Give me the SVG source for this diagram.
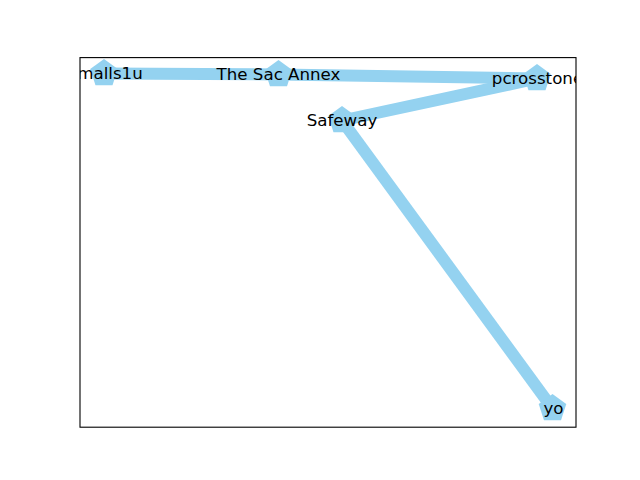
<svg xmlns="http://www.w3.org/2000/svg" width="640" height="480" viewBox="0 0 640 480">
  <style>
    .edge { stroke: #94d2f0; stroke-width: 12; stroke-linecap: butt; fill: none; }
    .node { fill: #94d2f0; stroke: none; }
    .label { font-family: "DejaVu Sans", sans-serif; font-size: 16.67px; fill: #000; text-anchor: middle; }
    .frame { fill: none; stroke: #000; stroke-width: 1.1; }
  </style>
  <defs>
    <clipPath id="axclip">
      <rect x="80" y="57.6" width="496" height="369.6"/>
    </clipPath>
  </defs>
  <rect x="0" y="0" width="640" height="480" fill="#fff"/>
  <g clip-path="url(#axclip)">
    <g id="connectors">
      <line class="edge" x1="104" y1="73.5" x2="278.5" y2="74.5"/>
      <line class="edge" x1="278.5" y1="74.5" x2="537" y2="78.5"/>
      <line class="edge" x1="537" y1="78.5" x2="342" y2="120.5"/>
      <line class="edge" x1="342" y1="120.5" x2="552.5" y2="408.5"/>
    </g>
    <g id="node-malls1u">
      <polygon class="node" transform="translate(104,73.5)" points="0,-14.5 13.79,-4.48 8.52,11.73 -8.52,11.73 -13.79,-4.48"/>
      <text class="label" x="110" y="79">malls1u</text>
    </g>
    <g id="node-sac-annex">
      <polygon class="node" transform="translate(278.5,74.5)" points="0,-14.5 13.79,-4.48 8.52,11.73 -8.52,11.73 -13.79,-4.48"/>
      <text class="label" x="278.5" y="80">The Sac Annex</text>
    </g>
    <g id="node-pcrosstone">
      <polygon class="node" transform="translate(537,78.5)" points="0,-14.5 13.79,-4.48 8.52,11.73 -8.52,11.73 -13.79,-4.48"/>
      <text class="label" x="537.5" y="84">pcrosstone</text>
    </g>
    <g id="node-safeway">
      <polygon class="node" transform="translate(342,120.5)" points="0,-14.5 13.79,-4.48 8.52,11.73 -8.52,11.73 -13.79,-4.48"/>
      <text class="label" x="342" y="126">Safeway</text>
    </g>
    <g id="node-yo">
      <polygon class="node" transform="translate(552.5,408.5)" points="0,-14.5 13.79,-4.48 8.52,11.73 -8.52,11.73 -13.79,-4.48"/>
      <text class="label" x="553.5" y="414">yo</text>
    </g>
  </g>
  <rect class="frame" x="80" y="57.6" width="496" height="369.6"/>
</svg>
